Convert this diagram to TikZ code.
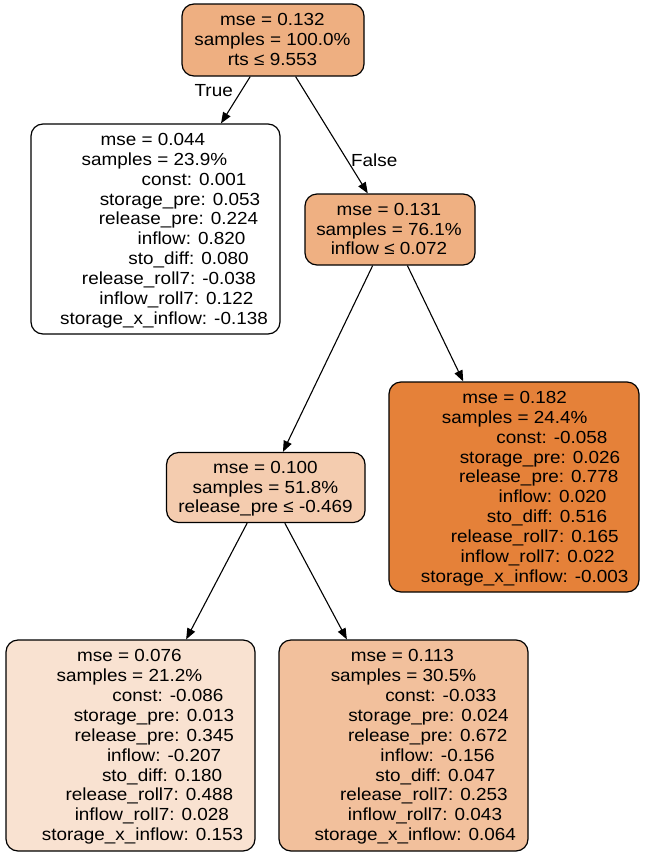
\documentclass[tikz,border=0pt]{standalone}
\usepackage{fontspec}
\setmainfont{Liberation Sans}[FakeStretch=1.08]
\usetikzlibrary{arrows.meta}
\definecolor{croot}{HTML}{EEAF81}
\definecolor{cnone}{HTML}{FFFFFF}
\definecolor{cntwo}{HTML}{EFB082}
\definecolor{cnthree}{HTML}{E58139}
\definecolor{cnfour}{HTML}{F4CCAF}
\definecolor{cnfive}{HTML}{F9E2D1}
\definecolor{cnsix}{HTML}{F2C09C}
\newcommand\leaflines[4]{%
  \foreach \k/\dx/\t in {#4} {%
    \node[txt] (#1-\k) at ({#2+\dx},{-(#3+5.8+(\k-4.5)*19.85)}) {\t};}}
\newcommand\innerlines[4]{%
  \foreach \k/\t in {#4} {%
    \node[txt] (#1-\k) at ({#2},{-(#3+5.5+(\k-1)*19.7)}) {\t};}}
\begin{document}
\begin{tikzpicture}[x=1pt,y=1pt,
  box/.style={draw=black, line width=1.2pt, rounded corners=12pt, inner sep=0pt},
  txt/.style={anchor=base, inner sep=0pt, font=\fontsize{17.5}{20}\selectfont},
  edge/.style={draw=black, line width=1.1pt, -{Triangle[length=11pt,width=8.5pt]}}]
\useasboundingbox (0,0) rectangle (646,-857);
% boxes
\node[box, fill=croot, minimum width=182pt, minimum height=72pt] (root) at (273,-40) {};
\node[box, fill=cnone, minimum width=249pt, minimum height=210pt] (n1) at (155.5,-229) {};
\node[box, fill=cntwo, minimum width=170pt, minimum height=71pt] (n2) at (390,-229.5) {};
\node[box, fill=cnthree, minimum width=250pt, minimum height=210pt] (n3) at (514,-487) {};
\node[box, fill=cnfour, minimum width=198.5pt, minimum height=70pt] (n4) at (265.8,-487.5) {};
\node[box, fill=cnfive, minimum width=249pt, minimum height=211pt] (n5) at (130.5,-745.5) {};
\node[box, fill=cnsix, minimum width=249pt, minimum height=211pt] (n6) at (403.5,-745.5) {};
% texts
\innerlines{rt}{272.5}{40}{0/{mse = 0.132},1/{samples = 100.0\%},2/{rts ≤ 9.553}}
\innerlines{tt}{389}{229.5}{0/{mse = 0.131},1/{samples = 76.1\%},2/{inflow ≤ 0.072}}
\innerlines{ft}{265.5}{487.5}{0/{mse = 0.100},1/{samples = 51.8\%},2/{release\_pre ≤ -0.469}}
\leaflines{at}{155.5}{229}{0/-2.5/{mse = 0.044},1/-1/{samples = 23.9\%},2/38.5/{const: 0.001},3/24.5/{storage\_pre: 0.053},4/23/{release\_pre: 0.224},5/36/{inflow: 0.820},6/33/{sto\_diff: 0.080},7/13.5/{release\_roll7: -0.038},8/21/{inflow\_roll7: 0.122},9/8.5/{storage\_x\_inflow: -0.138}}
\leaflines{ct}{514}{487}{0/0.7/{mse = 0.182},1/0.7/{samples = 24.4\%},2/38/{const: -0.058},3/26/{storage\_pre: 0.026},4/24.7/{release\_pre: 0.778},5/38.5/{inflow: 0.020},6/33/{sto\_diff: 0.516},7/20.7/{release\_roll7: 0.165},8/23.7/{inflow\_roll7: 0.022},9/10.7/{storage\_x\_inflow: -0.003}}
\leaflines{et}{130.5}{745.5}{0/-1.1/{mse = 0.076},1/-1.1/{samples = 21.2\%},2/37.5/{const: -0.086},3/23.5/{storage\_pre: 0.013},4/23.8/{release\_pre: 0.345},5/33.6/{inflow: -0.207},6/31.6/{sto\_diff: 0.180},7/18.9/{release\_roll7: 0.488},8/21.3/{inflow\_roll7: 0.028},9/12/{storage\_x\_inflow: 0.153}}
\leaflines{st}{403.5}{745.5}{0/-1.1/{mse = 0.113},1/0/{samples = 30.5\%},2/37.3/{const: -0.033},3/25/{storage\_pre: 0.024},4/24.2/{release\_pre: 0.672},5/34/{inflow: -0.156},6/31.9/{sto\_diff: 0.047},7/20.4/{release\_roll7: 0.253},8/21.5/{inflow\_roll7: 0.043},9/11.7/{storage\_x\_inflow: 0.064}}
% edges
\draw[edge] (root) -- (n1);
\draw[edge] (root) -- (n2);
\draw[edge] (n2) -- (n4);
\draw[edge] (n2) -- (n3);
\draw[edge] (n4) -- (n5);
\draw[edge] (n4) -- (n6);
\node[txt] (ltrue) at (213.7,-96) {True};
\node[txt] (lfalse) at (374.2,-166) {False};
\end{tikzpicture}
\end{document}
